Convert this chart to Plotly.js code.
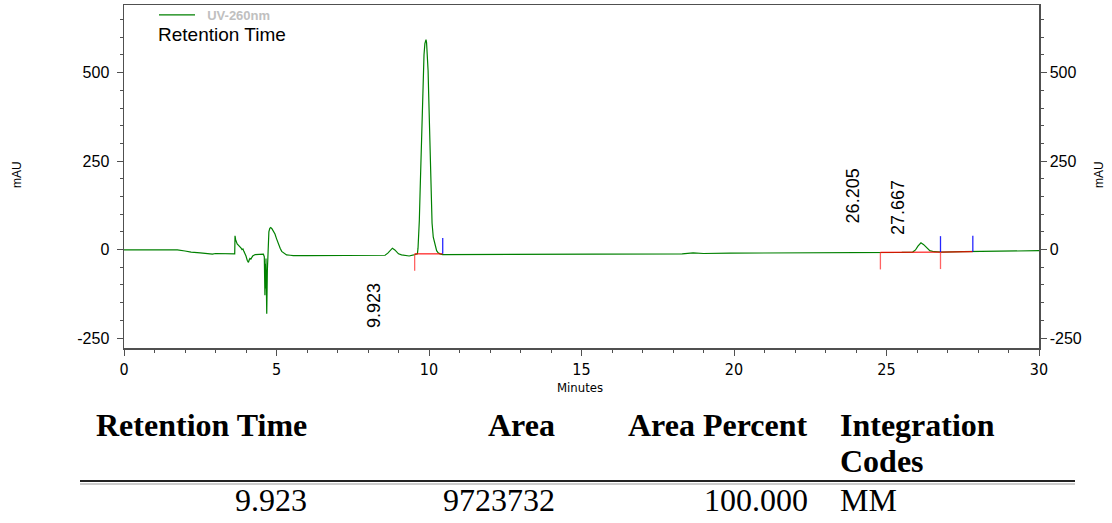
<!DOCTYPE html>
<html>
<head>
<meta charset="utf-8">
<script src="https://cdn.plot.ly/plotly-3.0.1.min.js"></script>
<style>
  html, body { margin: 0; padding: 0; background: #ffffff; }
  #chart { width: 1112px; height: 523px; }
</style>
</head>
<body>
<div id="chart"></div>
<script>
// ---------------- data ----------------
const times = [0, 0.5, 1.0, 1.5, 1.75, 2.0, 2.2, 2.5, 2.8, 2.9, 3.0, 3.3, 3.6, 3.63, 3.64, 3.66, 3.71, 3.76, 3.80, 3.84, 3.87, 3.9, 3.93, 3.97, 4.0, 4.04, 4.08, 4.11, 4.13, 4.16, 4.18, 4.22, 4.3, 4.4, 4.5, 4.57, 4.60, 4.62, 4.63, 4.645, 4.655, 4.68, 4.70, 4.72, 4.75, 4.78, 4.81, 4.85, 4.90, 4.95, 5.0, 5.06, 5.12, 5.17, 5.25, 5.33, 5.45, 5.55, 6.0, 6.5, 7.0, 7.5, 8.0, 8.4, 8.56, 8.65, 8.72, 8.80, 8.88, 8.95, 9.0, 9.1, 9.2, 9.35, 9.5, 9.6, 9.62, 9.64, 9.66, 9.683, 9.71, 9.738, 9.765, 9.792, 9.815, 9.836, 9.865, 9.885, 9.902, 9.92, 9.946, 9.97, 9.989, 10.01, 10.033, 10.07, 10.10, 10.14, 10.2, 10.25, 10.30, 10.36, 10.45, 10.7, 11.5, 12.0, 12.4, 12.8, 13.5, 14.2, 14.46, 14.8, 15.5, 16.5, 17.5, 18.3, 18.66, 19.0, 19.87, 21, 22, 23, 24, 24.8, 25.5, 25.86, 25.95, 26.03, 26.13, 26.22, 26.32, 26.42, 26.56, 26.8, 27.5, 28, 29, 30];
const absorbance = [-1, -1, -0.5, 0, -1, -4, -7, -9, -11, -13, -11, -12, -12, -12, 39, 28, 16, 12, 8, 4, 0, 2, -5, -12, -18, -30, -36, -28, -25, -27, -23, -18, -14, -13, -13, -13, -20, -129, -40, -110, -25, -181, -60, 20, 50, 60, 62, 59, 52, 44, 31, 16, 4, -5, -11, -15, -16, -17, -17, -17, -18, -17, -17, -17, -16, -10, -2, 4, -1, -9, -12, -15, -17, -18, -15, -14, -12, 4, 32, 82, 170, 269, 365, 457, 515, 550, 582, 592, 593, 585, 550, 505, 440, 360, 269, 140, 75, 35, 10, -3, -9, -12, -14, -14, -14, -14, -12, -14, -14, -14, -12, -14, -14, -13, -13, -12, -9, -11, -10, -10, -9, -9, -8, -8, -8, -7, -1, 10, 19, 14, 4, -3, -6, -7, -6, -5, -4, -3];

// integration events
const integStartTime  = [9.53, 24.80, 26.77];
const integEndTime    = [10.45, 26.77, 27.83];
const integStartLevel = [-12, -8, -7];
const integEndLevel   = [-12, -7, -6];

// peak labels
const peakLabels = ['9.923', '26.205', '27.667'];
const peakLabelTime = [8.2, 23.9, 25.38];
const peakLabelLevel = [-159, 153, 118];

// axis ticks
const xTickVals = [0, 5, 10, 15, 20, 25, 30];
const yTickVals = [-250, 0, 250, 500];
const yTickText = ['-250', '0', '250', '500'];

// results table
const tableHeaders = ['Retention Time', 'Area', 'Area Percent', 'Integration<br>Codes'];
const tableRow = ['9.923', '9723732', '100.000', 'MM'];

// ---------------- styles ----------------
const TICK_DOWN = 48, TICK_UP = 45;
const AXIS_COLOR = '#505050';
const SANS = 'Liberation Sans, Arial, sans-serif';
const NARROW = 'DejaVu Sans Condensed, Liberation Sans Narrow, Arial Narrow, sans-serif';
const SERIF = 'Liberation Serif, Times New Roman, serif';

function segs(xs1, ys1, xs2, ys2) {
  const x = [], y = [];
  for (let i = 0; i < xs1.length; i++) { x.push(xs1[i], xs2[i], null); y.push(ys1[i], ys2[i], null); }
  return {x, y};
}
const base = segs(integStartTime, integStartLevel, integEndTime, integEndLevel);
const redT = segs(integStartTime, integStartLevel, integStartTime, integStartLevel.map(v => v - TICK_DOWN));
const blueT = segs(integEndTime, integEndLevel, integEndTime, integEndLevel.map(v => v + TICK_UP));

const traces = [
  {x: times, y: absorbance, type: 'scatter', mode: 'lines', name: '\u00a0\u00a0UV-260nm',
   line: {color: '#008000', width: 1.2}, hoverinfo: 'x+y'},
  {x: base.x, y: base.y, type: 'scatter', mode: 'lines', showlegend: false,
   line: {color: 'rgba(255,0,0,0.85)', width: 1.3}, hoverinfo: 'skip'},
  {x: redT.x, y: redT.y, type: 'scatter', mode: 'lines', showlegend: false,
   line: {color: 'rgba(255,60,60,0.8)', width: 1.3}, hoverinfo: 'skip'},
  {x: blueT.x, y: blueT.y, type: 'scatter', mode: 'lines', showlegend: false,
   line: {color: 'rgba(0,0,255,0.85)', width: 1.3}, hoverinfo: 'skip'},
  // same signal on the right-hand axis (invisible) so that the mirrored mAU axis is drawn
  {x: times, y: absorbance, type: 'scatter', mode: 'lines', yaxis: 'y2', showlegend: false,
   opacity: 0, line: {width: 0}, hoverinfo: 'skip'}
];

const W = 915, H = 343, L = 124, T = 5;
const px = v => (v - L) / W;
const py = v => (T + H - v) / H;

const annotations = [];
peakLabels.forEach((t, i) => annotations.push({
  x: peakLabelTime[i], y: peakLabelLevel[i], xref: 'x', yref: 'y', text: t, showarrow: false,
  textangle: -90, xanchor: 'center', yanchor: 'middle', font: {family: SANS, size: 18, color: '#000'}
}));
annotations.push({x: px(157), y: py(35), xref: 'paper', yref: 'paper', text: 'Retention Time', showarrow: false,
  xanchor: 'left', yanchor: 'middle', borderpad: 0, font: {family: SANS, size: 19, color: '#000'}});
annotations.push({x: px(17), y: py(175), xref: 'paper', yref: 'paper', text: 'mAU', showarrow: false, textangle: -90,
  xanchor: 'center', yanchor: 'middle', font: {family: SANS, size: 12, color: '#000'}});
annotations.push({x: px(1099), y: py(175), xref: 'paper', yref: 'paper', text: 'mAU', showarrow: false, textangle: -90,
  xanchor: 'center', yanchor: 'middle', font: {family: SANS, size: 12, color: '#000'}});
annotations.push({x: px(580), y: py(387), xref: 'paper', yref: 'paper', text: 'Minutes', showarrow: false,
  xanchor: 'center', yanchor: 'middle', font: {family: NARROW, size: 13, color: '#000'}});

// table
const colRight = [309, 557, 810];
const colLeftLast = 838;
const HEADER_Y = 425, LINE_GAP = 36, ROW_Y = 500;
tableHeaders.forEach((h, i) => {
  const last = i === 3;
  h.split('<br>').forEach((part, j) => {
    annotations.push({x: px(last ? colLeftLast : colRight[i]), y: py(HEADER_Y + j * LINE_GAP), xref: 'paper', yref: 'paper',
      text: '<b>' + part + '</b>', showarrow: false, xanchor: last ? 'left' : 'right', yanchor: 'middle',
      font: {family: SERIF, size: 32, color: '#000'}});
  });
});
tableRow.forEach((v, i) => {
  const last = i === 3;
  annotations.push({x: px(last ? colLeftLast : colRight[i]), y: py(ROW_Y), xref: 'paper', yref: 'paper',
    text: v, showarrow: false, xanchor: last ? 'left' : 'right', yanchor: 'middle',
    font: {family: SERIF, size: 32, color: '#000'}});
});

const yAxisCommon = {range: [-278, 691], tickvals: yTickVals, ticktext: yTickText, ticks: 'outside', ticklen: 6,
  tickwidth: 1, tickcolor: AXIS_COLOR, showline: true, linecolor: AXIS_COLOR, linewidth: 1.5, showgrid: false,
  zeroline: false, tickfont: {family: SANS, size: 16, color: '#000'},
  minor: {dtick: 50, ticks: 'outside', ticklen: 3, tickcolor: AXIS_COLOR, showgrid: false}};

const layout = {
  width: 1112, height: 523,
  margin: {l: 124, r: 73, t: 5, b: 175, pad: 0, autoexpand: false},
  paper_bgcolor: '#ffffff', plot_bgcolor: '#ffffff',
  showlegend: true,
  legend: {x: px(154), y: 1 + 5 / 343, xanchor: 'left', yanchor: 'top', bgcolor: 'rgba(0,0,0,0)', borderwidth: 0,
    font: {family: SANS, size: 13, color: '#c0c0c0', weight: 'bold'}, itemwidth: 36},
  xaxis: {range: [0, 30], tickvals: xTickVals, ticks: 'outside', ticklen: 6, tickwidth: 1, tickcolor: AXIS_COLOR,
    showline: true, linecolor: AXIS_COLOR, linewidth: 1.5, mirror: true, showgrid: false, zeroline: false,
    tickfont: {family: NARROW, size: 16, color: '#000'},
    minor: {dtick: 1, ticks: 'outside', ticklen: 3, tickcolor: AXIS_COLOR, showgrid: false}},
  yaxis: Object.assign({}, yAxisCommon, {ticklabelstandoff: 4}),
  yaxis2: Object.assign({}, yAxisCommon, {overlaying: 'y', side: 'right', ticklabelstandoff: 0}),
  annotations: annotations,
  shapes: [
    {type: 'line', xref: 'paper', yref: 'paper', x0: px(80), x1: px(1075), y0: py(481), y1: py(481),
     line: {color: '#222', width: 2}},
    {type: 'line', xref: 'paper', yref: 'paper', x0: px(80), x1: px(1075), y0: py(484), y1: py(484),
     line: {color: '#999', width: 1}}
  ]
};

Plotly.newPlot('chart', traces, layout, {displayModeBar: false, staticPlot: true});
</script>
</body>
</html>
